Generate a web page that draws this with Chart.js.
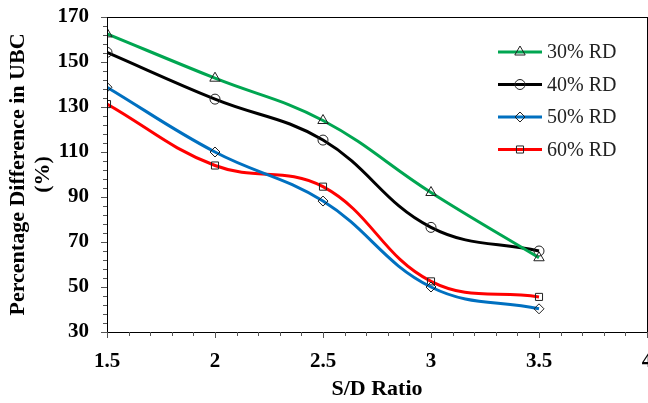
<!DOCTYPE html>
<html>
<head>
<meta charset="utf-8">
<script src="https://cdn.jsdelivr.net/npm/chart.js@4.4.1/dist/chart.umd.min.js"></script>
<style>
  html, body { margin: 0; padding: 0; background: #fff; overflow: hidden; }
  #wrap { width: 654px; height: 403px; }
</style>
</head>
<body>
<div id="wrap"><canvas id="chart"></canvas></div>
<script>
const sdRatio = [1.5, 2, 2.5, 3, 3.5];
const rd30 = [162.5, 142.8, 124, 92, 63];
const rd40 = [154.3, 133.5, 115.3, 76.5, 66];
const rd50 = [138.8, 110, 88.2, 50, 40.3];
const rd60 = [131.3, 104, 94.6, 52.5, 45.6];
const seriesNames = ["30% RD", "40% RD", "50% RD", "60% RD"];
const yTicks = [30, 50, 70, 90, 110, 130, 150, 170];
const xTicks = [1.5, 2, 2.5, 3, 3.5, 4];

const serif = "'Liberation Serif', 'Times New Roman', serif";

function pts(vals) {
  return sdRatio.map((x, i) => ({ x: x, y: vals[i] }));
}

function makeSet(label, vals, color, shape, radius) {
  return {
    label: label,
    data: pts(vals),
    borderColor: color,
    borderWidth: 3,
    tension: 0.4,
    pointStyle: shape,
    pointRadius: radius,
    pointBackgroundColor: "rgba(0,0,0,0)",
    pointBorderColor: "#222",
    pointBorderWidth: 1,
    fill: false
  };
}

// frame, minor ticks and legend drawn on top
const extras = {
  id: "extras",
  afterDraw(chart) {
    const ctx = chart.ctx;
    const a = chart.chartArea;
    const xs = chart.scales.x, ys = chart.scales.y;
    ctx.save();
    ctx.strokeStyle = "#000";
    ctx.lineWidth = 1;
    ctx.strokeRect(Math.round(a.left) + 0.5, Math.round(a.top) + 0.5,
      Math.round(a.right - a.left), Math.round(a.bottom - a.top));

    ctx.strokeStyle = "#555";
    ctx.beginPath();
    for (let i = 0; i <= 25; i++) {
      const v = 1.5 + i * 0.1;
      const px = Math.round(xs.getPixelForValue(v)) + 0.5;
      const len = (i % 5 === 0) ? 6 : 4;
      ctx.moveTo(px, a.bottom);
      ctx.lineTo(px, a.bottom + len);
    }
    for (let i = 0; i <= 35; i++) {
      const v = 30 + i * 4;
      const py = Math.round(ys.getPixelForValue(v)) + 0.5;
      const len = (i % 5 === 0) ? 6 : 4;
      ctx.moveTo(a.left, py);
      ctx.lineTo(a.left - len, py);
    }
    ctx.stroke();

    // legend inside plot
    const x0 = a.right - 149, x1 = a.right - 105;
    chart.data.datasets.forEach((ds, i) => {
      const y = a.top + 35 + i * 32.5;
      ctx.strokeStyle = ds.borderColor;
      ctx.lineWidth = 3;
      ctx.beginPath();
      ctx.moveTo(x0, y);
      ctx.lineTo(x1, y);
      ctx.stroke();
      ctx.lineWidth = 1;
      ctx.strokeStyle = "#222";
      ctx.fillStyle = "rgba(0,0,0,0)";
      Chart.helpers.drawPoint(ctx, {
        pointStyle: ds.pointStyle, radius: ds.pointRadius, rotation: 0, borderWidth: 1
      }, (x0 + x1) / 2, y);
      ctx.fillStyle = "#222";
      ctx.font = "20px " + serif;
      ctx.textBaseline = "middle";
      ctx.textAlign = "left";
      ctx.fillText(ds.label, x1 + 5, y + 1);
    });
    ctx.restore();
  }
};

new Chart(document.getElementById("chart"), {
  type: "line",
  data: {
    datasets: [
      makeSet(seriesNames[0], rd30, "#00a651", "triangle", 6),
      makeSet(seriesNames[1], rd40, "#000000", "circle", 5),
      makeSet(seriesNames[2], rd50, "#0070c0", "rectRot", 5),
      makeSet(seriesNames[3], rd60, "#ff0000", "rect", 5)
    ]
  },
  options: {
    responsive: true,
    maintainAspectRatio: false,
    animation: false,
    layout: { padding: { top: 17, right: 0, bottom: 0, left: 6 } },
    plugins: { legend: { display: false }, tooltip: { enabled: false } },
    scales: {
      x: {
        type: "linear",
        min: 1.5,
        max: 4,
        afterBuildTicks: s => { s.ticks = xTicks.map(v => ({ value: v })); },
        afterFit: s => { s.height = 71; s.paddingRight = 0; s.paddingLeft = 0; },
        grid: { display: false, drawTicks: false },
        border: { display: true, color: "#000" },
        ticks: {
          color: "#000",
          padding: 17,
          maxRotation: 0,
          callback: v => String(v),
          font: { family: serif, size: 21, weight: "bold" }
        },
        title: {
          display: true,
          text: "S/D Ratio",
          color: "#000",
          padding: { top: 2, bottom: 0 },
          font: { family: serif, size: 22, weight: "bold" }
        }
      },
      y: {
        min: 30,
        max: 170,
        afterBuildTicks: s => { s.ticks = yTicks.map(v => ({ value: v })); },
        afterFit: s => { s.width = 101; s.paddingTop = 0; s.paddingBottom = 0; },
        grid: { display: false, drawTicks: false },
        border: { display: true, color: "#000" },
        ticks: {
          color: "#000",
          padding: 18,
          font: { family: serif, size: 21, weight: "bold" }
        },
        title: {
          display: true,
          text: ["Percentage Difference in UBC", "(%)"],
          color: "#000",
          padding: { top: 0, bottom: 0 },
          font: { family: serif, size: 22, weight: "bold", lineHeight: 1.14 }
        }
      }
    }
  },
  plugins: [extras]
});
</script>
</body>
</html>
